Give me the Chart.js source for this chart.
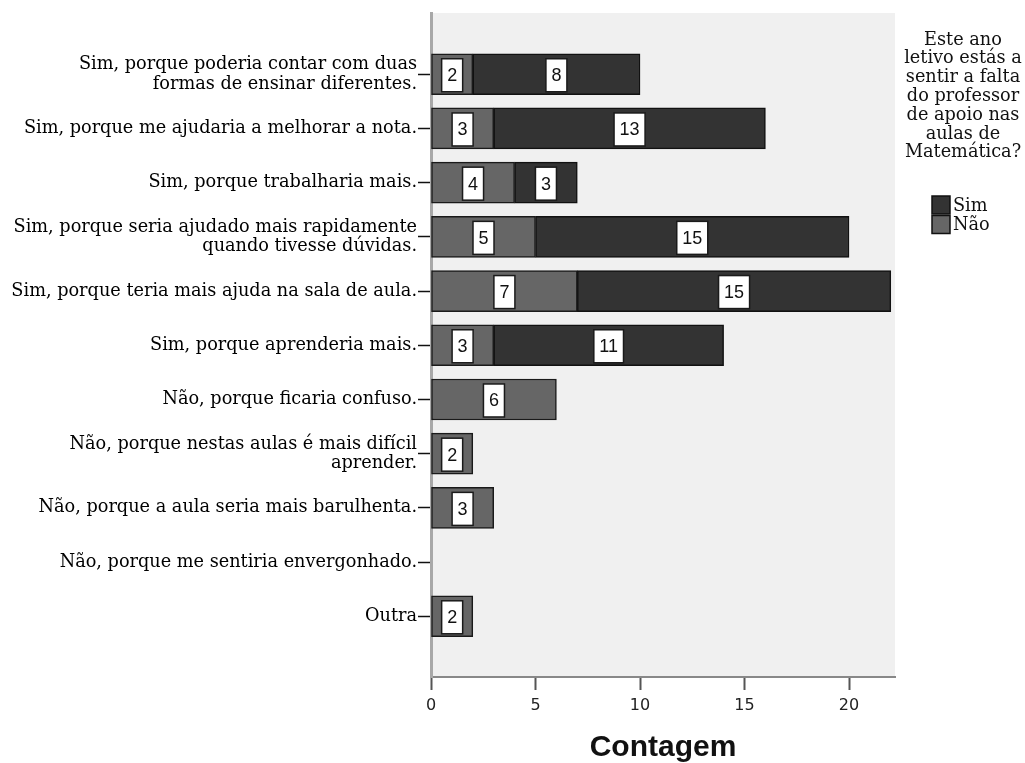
<!DOCTYPE html>
<html>
<head>
<meta charset="utf-8">
<script src="https://cdn.jsdelivr.net/npm/chart.js@4.4.1/dist/chart.umd.min.js"></script>
<style>
  html, body { margin: 0; padding: 0; background: #ffffff; }
  canvas { display: block; }
</style>
</head>
<body>
<canvas id="chart" width="1025" height="763"></canvas>
<script>
// Response categories (a "\n" marks where a label wraps)
const categories = [
  'Sim, porque poderia contar com duas\nformas de ensinar diferentes.',
  'Sim, porque me ajudaria a melhorar a nota.',
  'Sim, porque trabalharia mais.',
  'Sim, porque seria ajudado mais rapidamente\nquando tivesse dúvidas.',
  'Sim, porque teria mais ajuda na sala de aula.',
  'Sim, porque aprenderia mais.',
  'Não, porque ficaria confuso.',
  'Não, porque nestas aulas é mais difícil\naprender.',
  'Não, porque a aula seria mais barulhenta.',
  'Não, porque me sentiria envergonhado.',
  'Outra'
];

// Counts per answer group
const naoValues = [2, 3, 4, 5, 7, 3, 6, 2, 3, null, 2];
const simValues = [8, 13, 3, 15, 15, 11, null, null, null, null, null];

const seriesNames = ['Sim', 'Não'];
const seriesColors = { 'Sim': '#333333', 'Não': '#666666' };

const legendTitle = [
  'Este ano', 'letivo estás a', 'sentir a falta', 'do professor',
  'de apoio nas', 'aulas de', 'Matemática?'
];

const xTickValues = [0, 5, 10, 15, 20];
const xAxisTitle = 'Contagem';

const SERIF = '"DejaVu Serif", "Liberation Serif", serif';
const SANS = '"Liberation Sans", Arial, sans-serif';

// White boxed value labels centred on each bar segment
const valueBoxes = {
  id: 'valueBoxes',
  afterDatasetsDraw(chart) {
    const ctx = chart.ctx;
    ctx.save();
    ctx.font = '18px ' + SANS;
    ctx.textAlign = 'center';
    ctx.textBaseline = 'middle';
    chart.data.datasets.forEach((ds, di) => {
      const meta = chart.getDatasetMeta(di);
      meta.data.forEach((bar, i) => {
        const v = ds.data[i];
        if (v === null || v === undefined) return;
        const p = bar.getProps(['x', 'y', 'base'], true);
        const cx = (p.x + p.base) / 2;
        const text = String(v);
        const w = ctx.measureText(text).width + 11;
        const h = 33;
        ctx.fillStyle = '#ffffff';
        ctx.strokeStyle = '#1a1a1a';
        ctx.lineWidth = 1.5;
        ctx.fillRect(cx - w / 2, p.y - h / 2 + 1, w, h);
        ctx.strokeRect(cx - w / 2, p.y - h / 2 + 1, w, h);
        ctx.fillStyle = '#111111';
        ctx.fillText(text, cx, p.y + 2);
      });
    });
    ctx.restore();
  }
};

// Plot background
const plotBackground = {
  id: 'plotBackground',
  beforeDraw(chart) {
    const { ctx, chartArea: a } = chart;
    ctx.save();
    ctx.fillStyle = '#f0f0f0';
    ctx.fillRect(a.left, a.top, a.right - a.left, a.bottom - a.top);
    ctx.restore();
  }
};

// Legend block on the right: wrapped title plus swatches
const sideLegend = {
  id: 'sideLegend',
  afterDraw(chart) {
    const ctx = chart.ctx;
    ctx.save();
    ctx.font = '17.7px ' + SERIF;
    ctx.fillStyle = '#111111';
    ctx.textAlign = 'center';
    ctx.textBaseline = 'middle';
    const cx = 963;
    legendTitle.forEach((line, i) => ctx.fillText(line, cx, 40 + i * 18.8));
    ctx.textAlign = 'left';
    seriesNames.forEach((name, i) => {
      const y = 205 + i * 19.5;
      ctx.fillStyle = seriesColors[name];
      ctx.strokeStyle = '#111111';
      ctx.lineWidth = 1.5;
      ctx.fillRect(932, y - 9, 18, 18);
      ctx.strokeRect(932, y - 9, 18, 18);
      ctx.fillStyle = '#111111';
      ctx.fillText(name, 953, y + 1);
    });
    ctx.restore();
  }
};

const chart = new Chart(document.getElementById('chart'), {
  type: 'bar',
  data: {
    labels: categories.map((_, i) => i),
    datasets: [
      {
        label: 'Não',
        data: naoValues,
        backgroundColor: seriesColors['Não'],
        borderColor: '#1a1a1a',
        borderWidth: 1.5,
        borderSkipped: false,
        barThickness: 41
      },
      {
        label: 'Sim',
        data: simValues,
        backgroundColor: seriesColors['Sim'],
        borderColor: '#111111',
        borderWidth: 1.5,
        borderSkipped: false,
        barThickness: 41
      }
    ]
  },
  options: {
    indexAxis: 'y',
    responsive: false,
    animation: false,
    layout: { padding: { top: 13, right: 130, bottom: 0, left: 0 } },
    plugins: {
      legend: { display: false },
      tooltip: { enabled: false }
    },
    scales: {
      x: {
        type: 'linear',
        stacked: true,
        min: 0,
        max: 22.2,
        afterBuildTicks(scale) { scale.ticks = xTickValues.map(v => ({ value: v })); },
        afterFit(scale) { scale.height = 86; },
        ticks: {
          font: { family: '"DejaVu Sans", sans-serif', size: 16 },
          color: '#222222',
          padding: 6
        },
        grid: {
          display: true,
          drawOnChartArea: false,
          drawTicks: true,
          tickLength: 13,
          tickColor: '#555555',
          tickWidth: 2
        },
        border: { display: true, color: '#888888', width: 2 },
        title: {
          display: true,
          text: xAxisTitle,
          font: { family: SANS, size: 30, weight: 'bold', lineHeight: 1 },
          color: '#111111',
          padding: { top: 0, bottom: 0 }
        }
      },
      y: {
        type: 'linear',
        stacked: true,
        reverse: true,
        offset: false,
        min: -1.13,
        max: 11.12,
        afterBuildTicks(scale) { scale.ticks = categories.map((_, i) => ({ value: i })); },
        afterFit(scale) { scale.width = 431; },
        ticks: {
          callback: (v) => categories[v] ? categories[v].split('\n') : '',
          font: { family: SERIF, size: 17.7, lineHeight: 1.1 },
          color: '#000000',
          padding: 1
        },
        grid: {
          display: true,
          offset: false,
          drawOnChartArea: false,
          drawTicks: true,
          tickLength: 13,
          tickColor: '#111111',
          tickWidth: 1.5
        },
        border: { display: true, color: '#a8a8a8', width: 3 }
      }
    }
  },
  plugins: [plotBackground, valueBoxes, sideLegend]
});
</script>
</body>
</html>
